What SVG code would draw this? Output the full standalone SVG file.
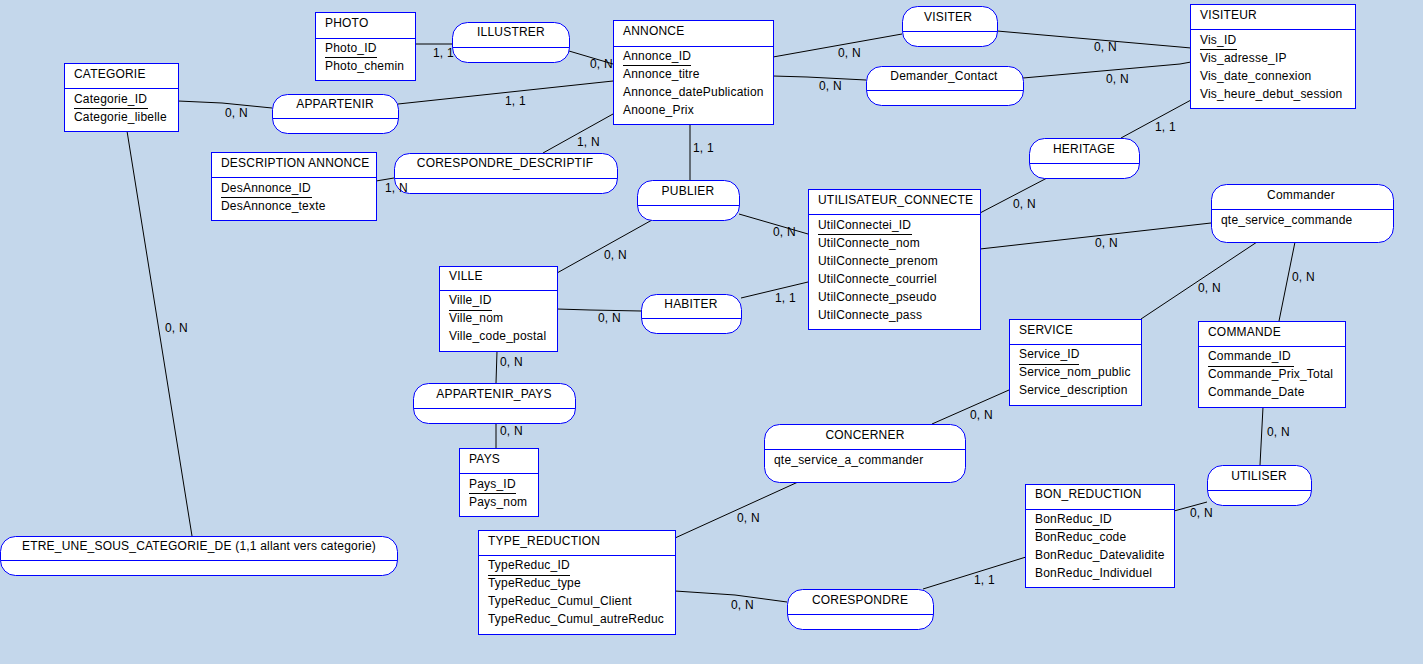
<svg xmlns="http://www.w3.org/2000/svg" width="1423" height="664" viewBox="0 0 1423 664">
<style>
text{font-family:"Liberation Sans",Arial,sans-serif;font-size:12px;fill:#000;letter-spacing:0.2px}
.box{fill:#fff;stroke:#0000ff;stroke-width:1}
.sep{stroke:#0000ff;stroke-width:1}
.ul{stroke:#000;stroke-width:1}
.c path{fill:none;stroke:#000;stroke-width:1}
.mid{text-anchor:middle}
</style>
<rect x="0" y="0" width="1423" height="664" fill="#c4d7eb"/>
<g id="connectors" class="c">
<path d="M415,44 L452,44"/>
<path d="M569,51 L613,64"/>
<path d="M398,104 L613,81"/>
<path d="M178,101 L222,103 L272,108"/>
<path d="M773,57 L902,34"/>
<path d="M997,31 L1180,47 L1191,48"/>
<path d="M773,76 L807,77 L866,80"/>
<path d="M1023,78 L1180,64 L1191,62"/>
<path d="M1191,100 L1121,138"/>
<path d="M1047,178 L980,213"/>
<path d="M613,114 L543,153"/>
<path d="M376,181 L394,178"/>
<path d="M690,124 L690,180"/>
<path d="M652,220 L557,273"/>
<path d="M739,214 L808,234"/>
<path d="M557,309 L590,310 L641,311"/>
<path d="M741,298 L808,282"/>
<path d="M497,351 L496,383"/>
<path d="M496,423 L496,448"/>
<path d="M980,249 L1211,223"/>
<path d="M1257,242 L1141,319"/>
<path d="M1295,242 L1279,321"/>
<path d="M1009,390 L932,424"/>
<path d="M798,482 L675,538"/>
<path d="M675,591 L735,595 L787,602"/>
<path d="M923,589 L1026,557"/>
<path d="M1174,511 L1207,502"/>
<path d="M1260,465 L1263,407"/>
<path d="M127,131 L192,536"/>
</g>

<g id="PHOTO">
<rect class="box" x="315.5" y="12.5" width="100" height="68"/>
<line class="sep" x1="315.5" y1="38.5" x2="415.5" y2="38.5"/>
<text x="325" y="27">PHOTO</text>
<text x="325" y="52">Photo_ID</text>
<line class="ul" x1="325" y1="57.5" x2="377" y2="57.5"/>
<text x="325" y="70">Photo_chemin</text>
</g>

<g id="ANNONCE">
<rect class="box" x="613.5" y="20.5" width="160" height="104"/>
<line class="sep" x1="613.5" y1="46.5" x2="773.5" y2="46.5"/>
<text x="623" y="35">ANNONCE</text>
<text x="623" y="60">Annonce_ID</text>
<line class="ul" x1="623" y1="65.5" x2="691" y2="65.5"/>
<text x="623" y="78">Annonce_titre</text>
<text x="623" y="96">Annonce_datePublication</text>
<text x="623" y="114">Anoone_Prix</text>
</g>

<g id="VISITEUR">
<rect class="box" x="1190.5" y="4.5" width="165" height="104"/>
<line class="sep" x1="1190.5" y1="29.5" x2="1355.5" y2="29.5"/>
<text x="1200" y="19">VISITEUR</text>
<text x="1200" y="44">Vis_ID</text>
<line class="ul" x1="1200" y1="49.5" x2="1237" y2="49.5"/>
<text x="1200" y="62">Vis_adresse_IP</text>
<text x="1200" y="80">Vis_date_connexion</text>
<text x="1200" y="98" letter-spacing="0.35">Vis_heure_debut_session</text>
</g>

<g id="CATEGORIE">
<rect class="box" x="64.5" y="63.5" width="114" height="68"/>
<line class="sep" x1="64.5" y1="88.5" x2="178.5" y2="88.5"/>
<text x="74" y="78">CATEGORIE</text>
<text x="74" y="103">Categorie_ID</text>
<line class="ul" x1="74" y1="108.5" x2="148" y2="108.5"/>
<text x="74" y="121">Categorie_libelle</text>
</g>

<g id="DESCRIPTION_ANNONCE">
<rect class="box" x="211.5" y="152.5" width="165" height="68"/>
<line class="sep" x1="211.5" y1="177.5" x2="376.5" y2="177.5"/>
<text x="221" y="167" letter-spacing="-0.3">DESCRIPTION ANNONCE</text>
<text x="221" y="192">DesAnnonce_ID</text>
<line class="ul" x1="221" y1="197.5" x2="312" y2="197.5"/>
<text x="221" y="210">DesAnnonce_texte</text>
</g>

<g id="VILLE">
<rect class="box" x="439.5" y="266.5" width="118" height="85"/>
<line class="sep" x1="439.5" y1="290.5" x2="557.5" y2="290.5"/>
<text x="449" y="280">VILLE</text>
<text x="449" y="304">Ville_ID</text>
<line class="ul" x1="449" y1="310.5" x2="492" y2="310.5"/>
<text x="449" y="322">Ville_nom</text>
<text x="449" y="340">Ville_code_postal</text>
</g>

<g id="UTILISATEUR_CONNECTE">
<rect class="box" x="808.5" y="189.5" width="172" height="140"/>
<line class="sep" x1="808.5" y1="214.5" x2="980.5" y2="214.5"/>
<text x="818" y="204">UTILISATEUR_CONNECTE</text>
<text x="818" y="229">UtilConnectei_ID</text>
<line class="ul" x1="818" y1="234.5" x2="912" y2="234.5"/>
<text x="818" y="247">UtilConnecte_nom</text>
<text x="818" y="265">UtilConnecte_prenom</text>
<text x="818" y="283">UtilConnecte_courriel</text>
<text x="818" y="301">UtilConnecte_pseudo</text>
<text x="818" y="319">UtilConnecte_pass</text>
</g>

<g id="SERVICE">
<rect class="box" x="1009.5" y="319.5" width="132" height="86"/>
<line class="sep" x1="1009.5" y1="344.5" x2="1141.5" y2="344.5"/>
<text x="1019" y="334">SERVICE</text>
<text x="1019" y="358">Service_ID</text>
<line class="ul" x1="1019" y1="364.5" x2="1079" y2="364.5"/>
<text x="1019" y="376">Service_nom_public</text>
<text x="1019" y="394">Service_description</text>
</g>

<g id="COMMANDE">
<rect class="box" x="1198.5" y="321.5" width="147" height="86"/>
<line class="sep" x1="1198.5" y1="346.5" x2="1345.5" y2="346.5"/>
<text x="1208" y="336">COMMANDE</text>
<text x="1208" y="360">Commande_ID</text>
<line class="ul" x1="1208" y1="366.5" x2="1294" y2="366.5"/>
<text x="1208" y="378">Commande_Prix_Total</text>
<text x="1208" y="396">Commande_Date</text>
</g>

<g id="PAYS">
<rect class="box" x="459.5" y="448.5" width="79" height="68"/>
<line class="sep" x1="459.5" y1="473.5" x2="538.5" y2="473.5"/>
<text x="469" y="463">PAYS</text>
<text x="469" y="488">Pays_ID</text>
<line class="ul" x1="469" y1="493.5" x2="516" y2="493.5"/>
<text x="469" y="506">Pays_nom</text>
</g>

<g id="BON_REDUCTION">
<rect class="box" x="1025.5" y="484.5" width="149" height="103"/>
<line class="sep" x1="1025.5" y1="509.5" x2="1174.5" y2="509.5"/>
<text x="1035" y="498">BON_REDUCTION</text>
<text x="1035" y="523">BonReduc_ID</text>
<line class="ul" x1="1035" y1="529.5" x2="1113" y2="529.5"/>
<text x="1035" y="541">BonReduc_code</text>
<text x="1035" y="559">BonReduc_Datevalidite</text>
<text x="1035" y="577">BonReduc_Individuel</text>
</g>

<g id="TYPE_REDUCTION">
<rect class="box" x="478.5" y="530.5" width="197" height="104"/>
<line class="sep" x1="478.5" y1="555.5" x2="675.5" y2="555.5"/>
<text x="488" y="545">TYPE_REDUCTION</text>
<text x="488" y="569">TypeReduc_ID</text>
<line class="ul" x1="488" y1="575.5" x2="570" y2="575.5"/>
<text x="488" y="587">TypeReduc_type</text>
<text x="488" y="605">TypeReduc_Cumul_Client</text>
<text x="488" y="623">TypeReduc_Cumul_autreReduc</text>
</g>

<g id="ILLUSTRER">
<rect class="box" x="452.5" y="22.5" width="117" height="40" rx="15"/>
<line class="sep" x1="452.5" y1="47.5" x2="569.5" y2="47.5"/>
<text class="mid" x="511" y="36">ILLUSTRER</text>
</g>

<g id="APPARTENIR">
<rect class="box" x="272.5" y="94.5" width="126" height="39" rx="15"/>
<line class="sep" x1="272.5" y1="118.5" x2="398.5" y2="118.5"/>
<text class="mid" x="335" y="108">APPARTENIR</text>
</g>

<g id="VISITER">
<rect class="box" x="902.5" y="6.5" width="95" height="40" rx="15"/>
<line class="sep" x1="902.5" y1="31.5" x2="997.5" y2="31.5"/>
<text class="mid" x="948" y="21">VISITER</text>
</g>

<g id="Demander_Contact">
<rect class="box" x="866.5" y="66.5" width="157" height="39" rx="15"/>
<line class="sep" x1="866.5" y1="90.5" x2="1023.5" y2="90.5"/>
<text class="mid" x="944" y="80">Demander_Contact</text>
</g>

<g id="CORESPONDRE_DESCRIPTIF">
<rect class="box" x="394.5" y="153.5" width="223" height="40" rx="15"/>
<line class="sep" x1="394.5" y1="178.5" x2="617.5" y2="178.5"/>
<text class="mid" x="505" y="167">CORESPONDRE_DESCRIPTIF</text>
</g>

<g id="PUBLIER">
<rect class="box" x="637.5" y="180.5" width="102" height="40" rx="15"/>
<line class="sep" x1="637.5" y1="205.5" x2="739.5" y2="205.5"/>
<text class="mid" x="688" y="195">PUBLIER</text>
</g>

<g id="HABITER">
<rect class="box" x="641.5" y="294.5" width="100" height="39" rx="15"/>
<line class="sep" x1="641.5" y1="318.5" x2="741.5" y2="318.5"/>
<text class="mid" x="691" y="308">HABITER</text>
</g>

<g id="HERITAGE">
<rect class="box" x="1029.5" y="138.5" width="110" height="40" rx="15"/>
<line class="sep" x1="1029.5" y1="163.5" x2="1139.5" y2="163.5"/>
<text class="mid" x="1084" y="153">HERITAGE</text>
</g>

<g id="Commander">
<rect class="box" x="1211.5" y="184.5" width="182" height="58" rx="15"/>
<line class="sep" x1="1211.5" y1="209.5" x2="1393.5" y2="209.5"/>
<text class="mid" x="1301" y="199">Commander</text>
<text x="1221" y="224">qte_service_commande</text>
</g>

<g id="APPARTENIR_PAYS">
<rect class="box" x="413.5" y="383.5" width="162" height="40" rx="15"/>
<line class="sep" x1="413.5" y1="408.5" x2="575.5" y2="408.5"/>
<text class="mid" x="494" y="398">APPARTENIR_PAYS</text>
</g>

<g id="CONCERNER">
<rect class="box" x="764.5" y="424.5" width="201" height="58" rx="15"/>
<line class="sep" x1="764.5" y1="449.5" x2="965.5" y2="449.5"/>
<text class="mid" x="865" y="439">CONCERNER</text>
<text x="774" y="464">qte_service_a_commander</text>
</g>

<g id="UTILISER">
<rect class="box" x="1207.5" y="465.5" width="104" height="40" rx="15"/>
<line class="sep" x1="1207.5" y1="490.5" x2="1311.5" y2="490.5"/>
<text class="mid" x="1259" y="480">UTILISER</text>
</g>

<g id="CORESPONDRE">
<rect class="box" x="787.5" y="589.5" width="146" height="40" rx="15"/>
<line class="sep" x1="787.5" y1="614.5" x2="933.5" y2="614.5"/>
<text class="mid" x="860" y="604">CORESPONDRE</text>
</g>

<g id="ETRE_UNE_SOUS_CATEGORIE_DE">
<rect class="box" x="0.5" y="536.5" width="397" height="39" rx="15"/>
<line class="sep" x1="0.5" y1="560.5" x2="397.5" y2="560.5"/>
<text class="mid" x="199" y="550" letter-spacing="-0.1">ETRE_UNE_SOUS_CATEGORIE_DE (1,1 allant vers categorie)</text>
</g>

<g id="cardinalities">
<text x="433" y="57">1, 1</text>
<text x="590" y="68">0, N</text>
<text x="505" y="105">1, 1</text>
<text x="225" y="117">0, N</text>
<text x="838" y="57">0, N</text>
<text x="1094" y="51">0, N</text>
<text x="819" y="90">0, N</text>
<text x="1106" y="83">0, N</text>
<text x="1155" y="131">1, 1</text>
<text x="1013" y="208">0, N</text>
<text x="577" y="146">1, N</text>
<text x="385" y="192">1, N</text>
<text x="693" y="152">1, 1</text>
<text x="604" y="259">0, N</text>
<text x="773" y="236">0, N</text>
<text x="598" y="322">0, N</text>
<text x="775" y="302">1, 1</text>
<text x="500" y="366">0, N</text>
<text x="500" y="435">0, N</text>
<text x="1095" y="247">0, N</text>
<text x="1198" y="292">0, N</text>
<text x="1292" y="281">0, N</text>
<text x="970" y="419">0, N</text>
<text x="737" y="522">0, N</text>
<text x="731" y="609">0, N</text>
<text x="974" y="584">1, 1</text>
<text x="1190" y="517">0, N</text>
<text x="1267" y="436">0, N</text>
<text x="165" y="332">0, N</text>
</g>
</svg>
